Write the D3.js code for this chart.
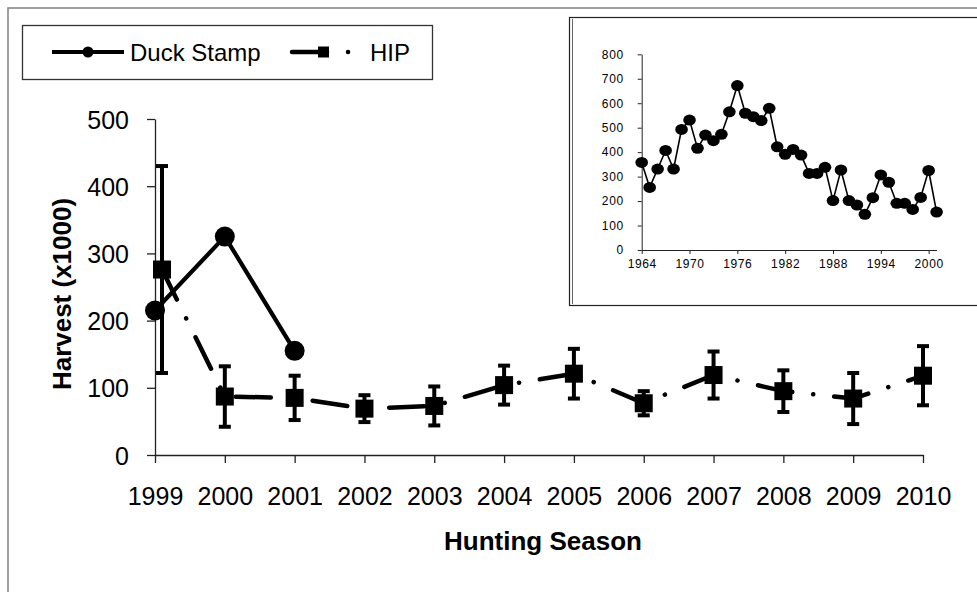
<!DOCTYPE html>
<html>
<head>
<meta charset="utf-8">
<script src="https://cdn.jsdelivr.net/npm/d3@7/dist/d3.min.js"></script>
<style>
  html, body { margin: 0; padding: 0; background: #fff; }
  svg { display: block; }
  text { font-family: Arial, "Liberation Sans", sans-serif; fill: #000; }
</style>
</head>
<body>
<svg id="chart" width="977" height="592"></svg>
<script>
// Harvest estimates (x1000), hunting seasons 1999-2010
const seasons = [1999, 2000, 2001, 2002, 2003, 2004, 2005, 2006, 2007, 2008, 2009, 2010];
const duckSeasons = [1999, 2000, 2001];
const duckHarvest = [215, 325, 155];
const hipHarvest = [276, 87, 85, 69, 73, 104, 121, 77, 119, 95, 84, 118];
const hipError = [154, 45, 33, 20, 29, 29, 37, 18, 35, 31, 38, 44];
const yTicks = [0, 100, 200, 300, 400, 500];

// Long-term Duck Stamp series for the inset
const insetYears = [1964, 1965, 1966, 1967, 1968, 1969, 1970, 1971, 1972, 1973, 1974, 1975, 1976,
  1977, 1978, 1979, 1980, 1981, 1982, 1983, 1984, 1985, 1986, 1987, 1988, 1989, 1990, 1991,
  1992, 1993, 1994, 1995, 1996, 1997, 1998, 1999, 2000, 2001];
const insetHarvest = [358, 256, 331, 407, 331, 493, 531, 416, 470, 447, 473, 565, 672,
  559, 545, 529, 579, 422, 391, 411, 388, 313, 313, 338, 202, 327, 202, 184,
  146, 214, 307, 277, 191, 191, 166, 215, 325, 155];
const insetXTicks = [1964, 1970, 1976, 1982, 1988, 1994, 2000];
const insetYTicks = [0, 100, 200, 300, 400, 500, 600, 700, 800];

const legendItems = ["Duck Stamp", "HIP"];

const svg = d3.select("#chart");

// outer frame
svg.append("rect").attr("x", 8).attr("y", 8).attr("width", 1000).attr("height", 1000)
  .attr("fill", "#fff").attr("stroke", "#808080").attr("stroke-width", 1.5);

// ---------- main panel ----------
const x = d3.scaleLinear().domain([1999, 2010]).range([155, 923]);
const y = d3.scaleLinear().domain([0, 500]).range([455, 119]);

const axisColor = "#222";

const xAxis = svg.append("g").attr("transform", `translate(0,${y(0)})`)
  .call(d3.axisBottom(x).tickValues(seasons).tickFormat(d3.format("d")).tickSizeInner(8).tickSizeOuter(0).tickPadding(29));
const yAxis = svg.append("g").attr("transform", `translate(${x(1999)},0)`)
  .call(d3.axisLeft(y).tickValues(yTicks).tickSizeInner(8).tickSizeOuter(0).tickPadding(18));
[xAxis, yAxis].forEach(g => {
  g.select(".domain").attr("stroke", axisColor).attr("stroke-width", 1.3);
  g.selectAll(".tick line").attr("stroke", axisColor).attr("stroke-width", 1.3);
  g.selectAll(".tick text").style("font-size", "25px").attr("fill", "#000")
    .style("font-family", "Arial, 'Liberation Sans', sans-serif");
});
yAxis.selectAll(".tick text").attr("dy", "0.36em");
xAxis.selectAll(".tick text").attr("dy", "0.5em");

svg.append("text").attr("x", 543).attr("y", 550).attr("text-anchor", "middle")
  .style("font-size", "26px").style("font-weight", "bold").text("Hunting Season");
svg.append("text").attr("transform", "translate(71,294) rotate(-90)").attr("text-anchor", "middle")
  .style("font-size", "26px").style("font-weight", "bold").text("Harvest (x1000)");

// HIP series: first season nudged right so it clears the Duck Stamp marker
const hip = seasons.map((s, i) => ({ season: s, value: hipHarvest[i], err: hipError[i] }));
const dodge = d => (d.season === 1999 ? 7 : 0);
const hx = d => x(d.season) + dodge(d);

const duck = duckSeasons.map((s, i) => ({ season: s, value: duckHarvest[i] }));

// Duck Stamp line + circles
svg.append("path").datum(duck)
  .attr("d", d3.line().x(d => x(d.season)).y(d => y(d.value)))
  .attr("fill", "none").attr("stroke", "#000").attr("stroke-width", 4.2).attr("stroke-linejoin", "round");
svg.append("g").selectAll("circle").data(duck).join("circle")
  .attr("cx", d => x(d.season)).attr("cy", d => y(d.value)).attr("r", 10).attr("fill", "#000");

// HIP long-dash-dot line
const hipDash = "35,21,0.1,21";
svg.append("path").datum(hip)
  .attr("d", d3.line().x(hx).y(d => y(d.value)))
  .attr("fill", "none").attr("stroke", "#000").attr("stroke-width", 4.5)
  .attr("stroke-linecap", "round").attr("stroke-linejoin", "round")
  .attr("stroke-dasharray", hipDash).attr("stroke-dashoffset", 1.5);

// HIP error bars
const eb = svg.append("g").attr("stroke", "#000").attr("stroke-width", 4);
eb.selectAll("line.stem").data(hip).join("line").attr("class", "stem")
  .attr("x1", hx).attr("x2", hx)
  .attr("y1", d => y(d.value + d.err)).attr("y2", d => y(d.value - d.err));
eb.selectAll("line.capTop").data(hip).join("line").attr("class", "capTop")
  .attr("x1", d => hx(d) - 6).attr("x2", d => hx(d) + 6)
  .attr("y1", d => y(d.value + d.err)).attr("y2", d => y(d.value + d.err));
eb.selectAll("line.capBot").data(hip).join("line").attr("class", "capBot")
  .attr("x1", d => hx(d) - 6).attr("x2", d => hx(d) + 6)
  .attr("y1", d => y(d.value - d.err)).attr("y2", d => y(d.value - d.err));

// HIP squares
const sq = 18;
svg.append("g").selectAll("rect").data(hip).join("rect")
  .attr("x", d => hx(d) - sq / 2).attr("y", d => y(d.value) - sq / 2)
  .attr("width", sq).attr("height", sq).attr("fill", "#000");

// ---------- legend ----------
const legend = svg.append("g");
legend.append("rect").attr("x", 22.5).attr("y", 25.5).attr("width", 410).attr("height", 54)
  .attr("fill", "#fff").attr("stroke", "#333").attr("stroke-width", 1.3);
const ly = 52;
// Duck Stamp key
legend.append("line").attr("x1", 52).attr("x2", 124).attr("y1", ly).attr("y2", ly)
  .attr("stroke", "#000").attr("stroke-width", 4.2);
legend.append("circle").attr("cx", 88).attr("cy", ly).attr("r", 5.5).attr("fill", "#000");
legend.append("text").attr("x", 130).attr("y", ly).attr("dy", "0.36em")
  .style("font-size", "24px").text(legendItems[0]);
// HIP key
legend.append("line").attr("x1", 292).attr("x2", 364).attr("y1", ly).attr("y2", ly)
  .attr("stroke", "#000").attr("stroke-width", 4.5).attr("stroke-linecap", "round")
  .attr("stroke-dasharray", hipDash).attr("stroke-dashoffset", 0);
legend.append("rect").attr("x", 318).attr("y", ly - 5.5).attr("width", 11).attr("height", 11).attr("fill", "#000");
legend.append("text").attr("x", 370).attr("y", ly).attr("dy", "0.36em")
  .style("font-size", "24px").text(legendItems[1]);

// ---------- inset ----------
const inset = svg.append("g");
inset.append("rect").attr("x", 569.5).attr("y", 17.5).attr("width", 430).attr("height", 288)
  .attr("fill", "#fff").attr("stroke", "#222").attr("stroke-width", 1.2);
inset.append("line").attr("x1", 572.5).attr("x2", 572.5).attr("y1", 19).attr("y2", 304)
  .attr("stroke", "#666").attr("stroke-width", 1);

const ix = d3.scaleLinear().domain([1964, 2001]).range([641.7, 936.6]);
const iy = d3.scaleLinear().domain([0, 800]).range([250, 54.3]);

const ixAxis = inset.append("g").attr("transform", `translate(0,${iy(0)})`)
  .call(d3.axisBottom(ix).tickValues(insetXTicks).tickFormat(d3.format("d")).tickSizeInner(4).tickSizeOuter(0).tickPadding(5));
const iyAxis = inset.append("g").attr("transform", `translate(${ix(1964)},0)`)
  .call(d3.axisLeft(iy).tickValues(insetYTicks).tickSizeInner(4).tickSizeOuter(0).tickPadding(14));
[ixAxis, iyAxis].forEach(g => {
  g.select(".domain").attr("stroke", "#222").attr("stroke-width", 1);
  g.selectAll(".tick line").attr("stroke", "#222").attr("stroke-width", 1);
  g.selectAll(".tick text").style("font-size", "12px").style("letter-spacing", "0.6px").attr("fill", "#111")
    .style("font-family", "Arial, 'Liberation Sans', sans-serif");
});

const longSeries = insetYears.map((yr, i) => ({ year: yr, value: insetHarvest[i] }));
inset.append("path").datum(longSeries)
  .attr("d", d3.line().x(d => ix(d.year)).y(d => iy(d.value)))
  .attr("fill", "none").attr("stroke", "#000").attr("stroke-width", 1.6);
inset.append("g").selectAll("ellipse").data(longSeries).join("ellipse")
  .attr("cx", d => ix(d.year)).attr("cy", d => iy(d.value)).attr("rx", 6.3).attr("ry", 5.5).attr("fill", "#000");
</script>
</body>
</html>
